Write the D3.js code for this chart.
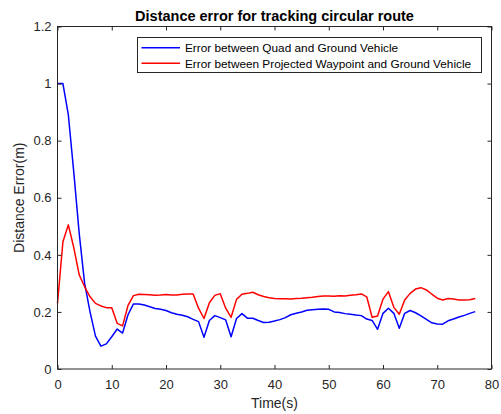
<!DOCTYPE html>
<html>
<head>
<meta charset="utf-8">
<script src="https://cdn.jsdelivr.net/npm/d3@7"></script>
<style>
    body { margin: 0; background: #fff; }
    text { font-family: "Liberation Sans", Arial, sans-serif; }
</style>
</head>
<body>
<script>
// time in seconds, one sample per second
const times = d3.range(0, 78);

const quadError = [
    1.0, 1.0, 0.89, 0.69, 0.475, 0.30, 0.20, 0.115, 0.08, 0.088,
    0.113, 0.14, 0.126, 0.19, 0.228, 0.228, 0.224, 0.218, 0.212, 0.209,
    0.205, 0.197, 0.192, 0.188, 0.183, 0.174, 0.166, 0.111, 0.17, 0.187,
    0.18, 0.172, 0.113, 0.177, 0.194, 0.178, 0.178, 0.17, 0.163, 0.164,
    0.168, 0.173, 0.18, 0.19, 0.195, 0.2, 0.206, 0.208, 0.209, 0.21,
    0.209, 0.2, 0.198, 0.194, 0.192, 0.189, 0.187, 0.175, 0.17, 0.139,
    0.195, 0.213, 0.195, 0.143, 0.195, 0.205, 0.197, 0.186, 0.174, 0.162,
    0.158, 0.157, 0.169, 0.175, 0.182, 0.188, 0.195, 0.201
];

const waypointError = [
    0.23, 0.446, 0.505, 0.425, 0.33, 0.288, 0.253, 0.23, 0.221, 0.215,
    0.215, 0.16, 0.151, 0.223, 0.257, 0.262, 0.261, 0.26, 0.258, 0.259,
    0.261, 0.259, 0.259, 0.262, 0.263, 0.263, 0.213, 0.177, 0.232, 0.258,
    0.264, 0.213, 0.181, 0.244, 0.262, 0.265, 0.269, 0.26, 0.254, 0.25,
    0.247, 0.246, 0.246, 0.245, 0.247, 0.248, 0.25, 0.251, 0.254, 0.256,
    0.256, 0.255, 0.257, 0.256, 0.258, 0.26, 0.263, 0.253, 0.181, 0.186,
    0.245, 0.271, 0.216, 0.192, 0.242, 0.265, 0.28, 0.285, 0.277, 0.262,
    0.248, 0.242, 0.247, 0.245, 0.242, 0.242, 0.243, 0.247
];

const xTicks = [0, 10, 20, 30, 40, 50, 60, 70, 80];
const yTicks = [0, 0.2, 0.4, 0.6, 0.8, 1, 1.2];

const seriesNames = [
    "Error between Quad and Ground Vehicle",
    "Error between Projected Waypoint and Ground Vehicle"
];
const seriesColors = ["#0000ff", "#ff0000"];

const width = 501, height = 414;
const margin = { top: 26.5, right: 9.5, bottom: 45, left: 57.5 };
const axisColor = "#262626";

const svg = d3.select("body")
    .append("svg")
    .attr("width", width)
    .attr("height", height);

const xScale = d3.scaleLinear()
    .domain([0, 80])
    .range([margin.left, width - margin.right]);

const yScale = d3.scaleLinear()
    .domain([0, 1.2])
    .range([height - margin.bottom, margin.top]);

const x0 = xScale.range()[0], x1 = xScale.range()[1];
const y0 = yScale.range()[0], y1 = yScale.range()[1];

// data lines
const lineGen = d3.line()
    .x((d, i) => xScale(times[i]))
    .y((d) => yScale(d));

[quadError, waypointError].forEach((series, i) => {
    svg.append("path")
        .datum(series)
        .attr("fill", "none")
        .attr("stroke", seriesColors[i])
        .attr("stroke-width", 1.5)
        .attr("stroke-linejoin", "round")
        .attr("d", lineGen);
});

// axes, ticks pointing inwards, box on all sides
const styleAxis = (g) => {
    g.select(".domain").remove();
    g.selectAll("line").attr("stroke", axisColor);
    g.selectAll("text")
        .attr("fill", axisColor)
        .style("font-size", "13px");
};

svg.append("g")
    .attr("transform", `translate(0,${y0})`)
    .call(d3.axisBottom(xScale).tickValues(xTicks).tickSizeInner(-4).tickSizeOuter(0).tickPadding(11).tickFormat(d3.format("d")))
    .call(styleAxis);

svg.append("g")
    .attr("transform", `translate(0,${y1})`)
    .call(d3.axisTop(xScale).tickValues(xTicks).tickSizeInner(-4).tickSizeOuter(0).tickFormat(""))
    .call(styleAxis);

svg.append("g")
    .attr("transform", `translate(${x0},0)`)
    .call(d3.axisLeft(yScale).tickValues(yTicks).tickSizeInner(-4).tickSizeOuter(0).tickPadding(6).tickFormat((d) => d3.format("")(+d.toFixed(1))))
    .call(styleAxis);

svg.append("g")
    .attr("transform", `translate(${x1},0)`)
    .call(d3.axisRight(yScale).tickValues(yTicks).tickSizeInner(-4).tickSizeOuter(0).tickFormat(""))
    .call(styleAxis);

svg.append("rect")
    .attr("x", x0)
    .attr("y", y1)
    .attr("width", x1 - x0)
    .attr("height", y0 - y1)
    .attr("fill", "none")
    .attr("stroke", axisColor)
    .attr("stroke-width", 1);

// title and axis labels
svg.append("text")
    .attr("x", (x0 + x1) / 2)
    .attr("y", 21)
    .attr("text-anchor", "middle")
    .attr("fill", "#000")
    .style("font-size", "14.5px")
    .style("font-weight", "bold")
    .text("Distance error for tracking circular route");

svg.append("text")
    .attr("x", (x0 + x1) / 2)
    .attr("y", 408)
    .attr("text-anchor", "middle")
    .attr("fill", axisColor)
    .style("font-size", "14px")
    .text("Time(s)");

svg.append("text")
    .attr("transform", `translate(24,${(y0 + y1) / 2}) rotate(-90)`)
    .attr("text-anchor", "middle")
    .attr("fill", axisColor)
    .style("font-size", "14px")
    .text("Distance Error(m)");

// legend
const legend = svg.append("g");

legend.append("rect")
    .attr("x", 137.5)
    .attr("y", 37.5)
    .attr("width", 344)
    .attr("height", 35)
    .attr("fill", "#fff")
    .attr("stroke", axisColor)
    .attr("stroke-width", 1);

seriesNames.forEach((name, i) => {
    const ly = 47.7 + i * 15.6;
    legend.append("line")
        .attr("x1", 141.5)
        .attr("x2", 180)
        .attr("y1", ly)
        .attr("y2", ly)
        .attr("stroke", seriesColors[i])
        .attr("stroke-width", 1.5);
    legend.append("text")
        .attr("x", 185)
        .attr("y", ly + 4.3)
        .attr("fill", "#000")
        .style("font-size", "11.8px")
        .text(name);
});
</script>
</body>
</html>
